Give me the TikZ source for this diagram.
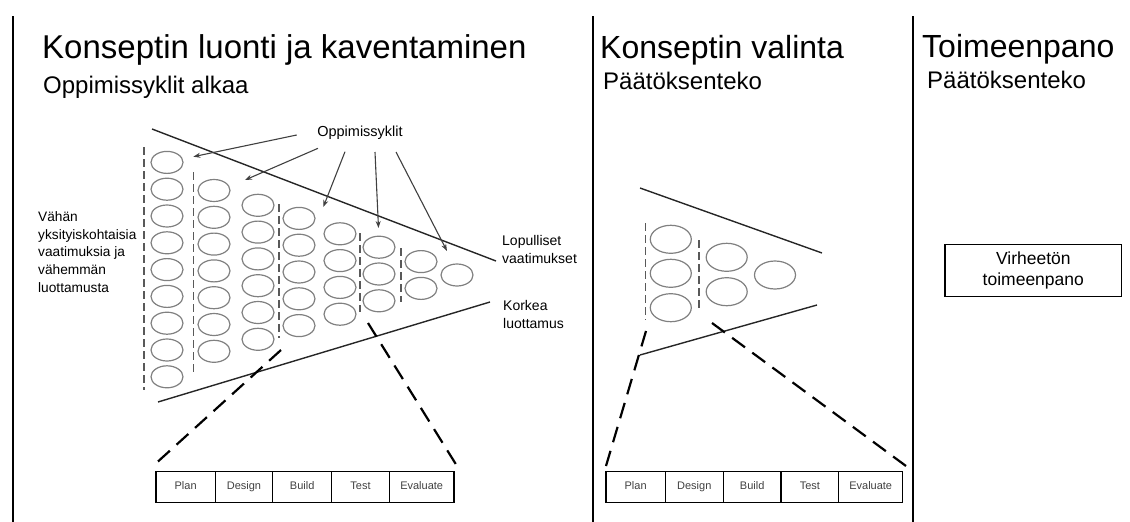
\documentclass[tikz,border=0pt]{standalone}
\usepackage{fontspec}
\setmainfont{Liberation Sans}
\usetikzlibrary{arrows.meta,shapes.geometric}
\begin{document}
\begin{tikzpicture}[x=1pt,y=-1pt,
  divider/.style={line width=1.7pt, black},
  funnel/.style={line width=1.4pt, black!85},
  cyc/.style={ellipse, draw=black!50, line width=1.2pt, minimum width=32pt, minimum height=22pt, inner sep=0pt},
  bigcyc/.style={cyc, minimum width=41pt, minimum height=28pt},
  sepline/.style={dash pattern=on 8pt off 4pt, line width=1.4pt, black!65},
  zoomline/.style={dash pattern=on 16pt off 9pt, line width=2.2pt, black},
  pointer/.style={-{Stealth[length=7pt,width=5pt]}, line width=1.1pt, black!75},
  cell/.style={draw, line width=1.2pt, minimum height=30.6pt, inner sep=0pt, text height=8pt, text depth=2.3pt,
               text=black!75, font=\fontsize{11}{13}\selectfont},
  title/.style={anchor=base west, inner sep=0pt, font=\fontsize{33}{38}\selectfont},
  subtitle/.style={anchor=base west, inner sep=0pt, font=\fontsize{24}{28}\selectfont},
  note/.style={anchor=west, inner sep=0pt, align=left, font=\fontsize{14}{18.5}\selectfont},
]
\useasboundingbox (0,0) rectangle (1130,522);

% section dividers
\draw[divider] (13,16) -- (13,522);
\draw[divider] (593,16) -- (593,522);
\draw[divider] (913,16) -- (913,522);

% headings
\node[title] (t1) at (42,58) {Konseptin luonti ja kaventaminen};
\node[subtitle] (s1) at (43,93) {Oppimissyklit alkaa};
\node[title, font=\fontsize{32}{38}\selectfont] (t2) at (600,58) {Konseptin valinta};
\node[subtitle] (s2) at (603,89) {Päätöksenteko};
\node[title, font=\fontsize{32}{38}\selectfont] (t3) at (922,57) {Toimeenpano};
\node[subtitle] (s3) at (927,88) {Päätöksenteko};

% ---- concept generation funnel ----
\draw[funnel] (152,129) -- (496,261);
\draw[funnel] (158,402) -- (490,302);

\foreach \x/\yc/\n [count=\c] in {167/269.6/9, 214/270.9/7, 258/272.3/6, 299/272/5, 340/274/4, 379/274/3, 421/275/2, 457/275/1} {
  \foreach \k in {1,...,\n} {
    \node[cyc] (c\c-\k) at ({\x},{\yc+(\k-(\n+1)/2)*26.8}) {};
  }
}

\draw[sepline] (144,147) -- (144,390);
\draw[sepline] (193.3,172) -- (193.3,373);
\draw[sepline] (279,204) -- (279,338);
\draw[sepline] (360,233) -- (360,312);
\draw[sepline] (401,248) -- (401,302);

% learning-cycle label and its pointers
\node[inner sep=0pt, font=\fontsize{14.5}{17}\selectfont] (lc) at (360,133) {Oppimissyklit};
\coordinate (p1) at (296.7,135);   \coordinate (q1) at (193.3,156.7);
\coordinate (p2) at (318,148.3);   \coordinate (q2) at (245,180);
\coordinate (p3) at (345,151.7);   \coordinate (q3) at (323.3,207);
\coordinate (p4) at (375,152);     \coordinate (q4) at (378.5,228);
\coordinate (p5) at (396,152);     \coordinate (q5) at (447,251);
\foreach \i in {1,...,5} { \draw[pointer] (p\i) -- (q\i); }

\node[note, font=\fontsize{13.7}{17.7}\selectfont] (few) at (38,252) {Vähän\\yksityiskohtaisia\\vaatimuksia ja\\vähemmän\\luottamusta};
\node[note] (final) at (502,249.5) {Lopulliset\\vaatimukset};
\node[note, font=\fontsize{14}{17.5}\selectfont] (trust) at (503,314.5) {Korkea\\luottamus};

% cycle steps, left
\foreach \lab/\xa/\xb [count=\i] in {Plan/156/215.3, Design/215.3/272.7, Build/272.7/331.7, Test/331.7/389.3, Evaluate/389.3/454} {
  \node[cell, minimum width={\xb-\xa}] (L\i) at ({(\xa+\xb)/2},487) {\lab};
}
% cycle steps, right
\foreach \lab/\xa/\xb [count=\i] in {Plan/606/665.3, Design/665.3/723.3, Build/723.3/781, Test/781/838.7, Evaluate/838.7/902.7} {
  \node[cell, minimum width={\xb-\xa}] (R\i) at ({(\xa+\xb)/2},487) {\lab};
}

\coordinate (zl1) at (281,350);  \coordinate (zl1e) at (153,466);
\coordinate (zl2) at (368,323);  \coordinate (zl2e) at (457,466);
\draw[zoomline] (zl1) -- (zl1e);
\draw[zoomline] (zl2) -- (zl2e);

% ---- concept selection funnel ----
\draw[funnel] (640,188) -- (822,253);
\draw[funnel] (640,355) -- (817,305);

\node[bigcyc] (m1-1) at (670.8,239.3) {};
\node[bigcyc] (m1-2) at (670.8,273.3) {};
\node[bigcyc] (m1-3) at (670.8,307.7) {};
\node[bigcyc] (m2-1) at (726.7,257.3) {};
\node[bigcyc] (m2-2) at (726.7,291.7) {};
\node[bigcyc] (m3-1) at (775,275) {};

\draw[sepline] (645.7,223) -- (645.7,320);
\draw[sepline] (699,240) -- (699,310);

\coordinate (zr1) at (646,331);  \coordinate (zr1e) at (606,466);
\coordinate (zr2) at (712,323);  \coordinate (zr2e) at (906,466);
\draw[zoomline] (zr1) -- (zr1e);
\draw[zoomline] (zr2) -- (zr2e);

% ---- implementation ----
\node[draw, line width=1.5pt, minimum width=176.7pt, minimum height=52.4pt, inner sep=0pt, align=center,
      font=\fontsize{17.5}{21}\selectfont] (impl) at (1033.3,270.5) {Virheetön\\toimeenpano};
\end{tikzpicture}
\end{document}
